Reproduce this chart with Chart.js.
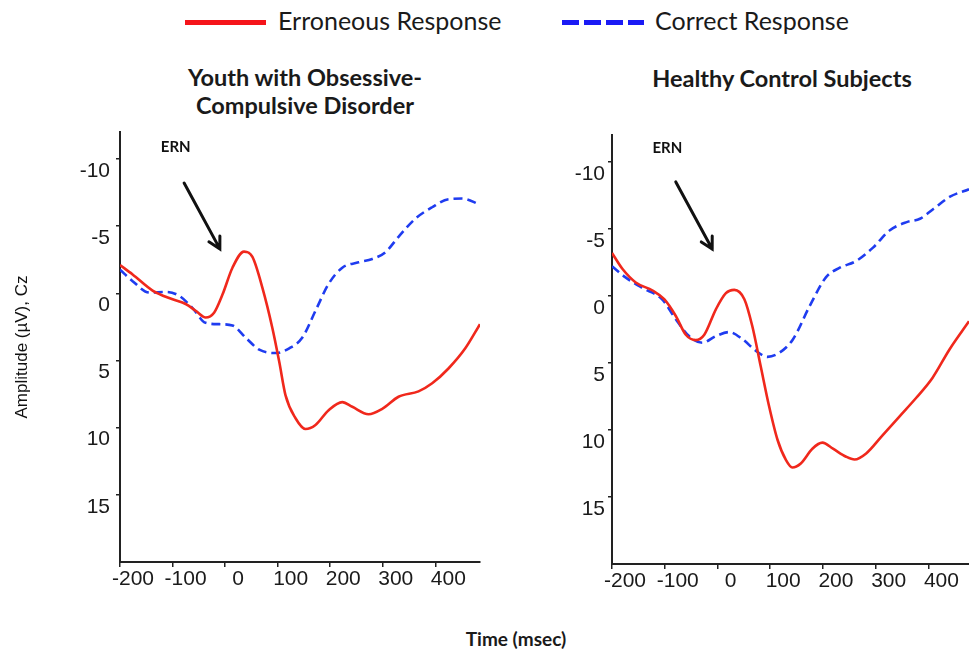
<!DOCTYPE html>
<html>
<head>
<meta charset="utf-8">
<script src="https://cdn.jsdelivr.net/npm/chart.js@4/dist/chart.umd.min.js"></script>
<style>
  body { margin: 0; width: 969px; height: 649px; background: #fff; position: relative; overflow: hidden; font-family: Lato, sans-serif; color: #1a1a1a; }
  .abs { position: absolute; white-space: nowrap; }
  .center { transform: translate(-50%, -50%); text-align: center; }
  .title { font-weight: bold; font-size: 23.5px; line-height: 28px; }
  .legtext { font-size: 25px; transform: translateY(-50%); }
  canvas { position: absolute; }
</style>
</head>
<body>

<div id="legend"></div>

<div class="abs center title" style="left:305px; top:91px;">Youth with Obsessive-<br>Compulsive Disorder</div>
<div class="abs center title" style="left:782px; top:78px;">Healthy Control Subjects</div>
<div class="abs center" style="left:516px; top:638px; font-weight:bold; font-size:19px;">Time (msec)</div>

<canvas id="chartOcd" width="490" height="500" style="left:0; top:110px;"></canvas>
<canvas id="chartHealthy" width="479" height="500" style="left:490px; top:110px;"></canvas>

<script>
/* Datos */
const seriesNames = ['Erroneous Response', 'Correct Response'];
const xTicks = [-200, -100, 0, 100, 200, 300, 400];
const yTicks = [-10, -5, 0, 5, 10, 15];

/* Youth with OCD */
const ocdErrTime = [-200, -176, -138, -100, -75, -56, -37, -21, -5, 14, 36, 52, 71, 90, 103, 115, 134, 153, 172, 197, 223, 242, 273, 299, 330, 368, 394, 425, 457, 485];
const ocdErrAmp = [-2.1, -1.4, -0.2, 0.45, 0.8, 1.3, 1.8, 1.45, 0.1, -1.9, -3.1, -2.7, -0.4, 2.6, 5.1, 7.6, 9.3, 10.1, 9.8, 8.7, 8.1, 8.45, 9.0, 8.6, 7.7, 7.3, 6.7, 5.6, 4.1, 2.3];
const ocdCorTime = [-200, -176, -144, -112, -87, -62, -37, -11, 14, 39, 65, 96, 122, 147, 172, 197, 223, 254, 280, 305, 330, 362, 394, 425, 451, 485];
const ocdCorAmp = [-1.75, -0.9, -0.05, -0.1, 0.2, 1.1, 2.2, 2.3, 2.4, 3.3, 4.2, 4.45, 4.1, 3.3, 1.3, -0.7, -1.9, -2.3, -2.55, -3.05, -4.2, -5.55, -6.4, -7.0, -7.05, -6.6];

/* Healthy control subjects */
const hcErrTime = [-200, -180, -155, -123, -101, -79, -60, -41, -25, -3, 16, 32, 51, 66, 82, 98, 114, 130, 142, 158, 180, 199, 219, 244, 260, 282, 313, 345, 377, 408, 440, 477];
const hcErrAmp = [-3.2, -2.0, -1.0, -0.4, 0.25, 1.5, 2.9, 3.3, 2.9, 1.0, -0.2, -0.45, 0.25, 2.25, 5.25, 8.25, 10.75, 12.25, 12.8, 12.5, 11.4, 10.95, 11.4, 12.0, 12.2, 11.75, 10.4, 9.0, 7.6, 6.1, 4.0, 1.9];
const hcCorTime = [-200, -175, -143, -105, -79, -54, -29, -3, 22, 48, 73, 95, 117, 143, 175, 206, 232, 263, 295, 327, 359, 384, 410, 441, 477];
const hcCorAmp = [-2.2, -1.4, -0.6, 0.25, 1.75, 3.0, 3.5, 3.0, 2.7, 3.25, 4.1, 4.55, 4.25, 3.25, 0.75, -1.4, -2.1, -2.6, -3.6, -4.9, -5.5, -5.75, -6.5, -7.4, -7.95];

/* ERN arrow (time, amplitude) */
const ocdArrow = [[-78, -8.2], [-10, -3.3]];
const ocdErnLabel = [-94, -10.9];
const hcArrow = [[-79, -8.5], [-10, -3.5]];
const hcErnLabel = [-95, -11.05];

const red = '#f0281c';
const blue = '#1f3cf0';

/* Leyenda */
const legend = document.getElementById('legend');
legend.innerHTML =
  '<div class="abs" style="left:185px; top:20px; width:81px; height:5px; background:#f5141a;"></div>' +
  '<div class="abs legtext" style="left:278px; top:20px;">' + seriesNames[0] + '</div>' +
  '<div class="abs" style="left:562px; top:20px; width:82px; height:5px; background:repeating-linear-gradient(to right, #1a1af5 0 17px, transparent 17px 22px);"></div>' +
  '<div class="abs legtext" style="left:655px; top:20px;">' + seriesNames[1] + '</div>';

const toPoints = (t, a) => t.map((v, i) => ({ x: v, y: a[i] }));

/* Flecha ERN */
const ernArrow = {
  id: 'ernArrow',
  afterDatasetsDraw(chart, args, opts) {
    const { ctx, scales: { x, y } } = chart;
    const x0 = x.getPixelForValue(opts.arrow[0][0]);
    const y0 = y.getPixelForValue(opts.arrow[0][1]);
    const x1 = x.getPixelForValue(opts.arrow[1][0]);
    const y1 = y.getPixelForValue(opts.arrow[1][1]);
    const ang = Math.atan2(y1 - y0, x1 - x0);
    ctx.save();
    ctx.strokeStyle = '#111';
    ctx.lineWidth = 3;
    ctx.lineCap = 'round';
    ctx.beginPath();
    ctx.moveTo(x0, y0);
    ctx.lineTo(x1, y1);
    ctx.moveTo(x1 - 13 * Math.cos(ang - 0.5), y1 - 13 * Math.sin(ang - 0.5));
    ctx.lineTo(x1, y1);
    ctx.lineTo(x1 - 13 * Math.cos(ang + 0.5), y1 - 13 * Math.sin(ang + 0.5));
    ctx.stroke();
    ctx.fillStyle = '#111';
    ctx.font = 'bold 15px Lato';
    ctx.textAlign = 'center';
    ctx.textBaseline = 'middle';
    ctx.fillText('ERN', x.getPixelForValue(opts.label[0]), y.getPixelForValue(opts.label[1]));
    ctx.restore();
  },
};

makePanel = (id, errT, errA, corT, corA, cfg) => {
  const ctx = document.getElementById(id).getContext('2d');
  return new Chart(ctx, {
    type: 'line',
    data: {
      datasets: [
        {
          label: seriesNames[0],
          data: toPoints(errT, errA),
          borderColor: red,
          borderWidth: 2.6,
          pointRadius: 0,
          cubicInterpolationMode: 'monotone',
        },
        {
          label: seriesNames[1],
          data: toPoints(corT, corA),
          borderColor: blue,
          borderWidth: 2.6,
          borderDash: [9, 5],
          pointRadius: 0,
          cubicInterpolationMode: 'monotone',
        },
      ],
    },
    options: {
      responsive: false,
      animation: false,
      layout: { padding: { top: cfg.padTop, right: cfg.padRight, left: 0, bottom: 0 } },
      scales: {
        x: {
          type: 'linear',
          min: -200,
          max: cfg.xMax,
          afterBuildTicks: (s) => { s.ticks = xTicks.map((v) => ({ value: v })); },
          afterFit: (s) => { s.height = cfg.xHeight; },
          ticks: {
            color: '#1a1a1a',
            font: { family: 'Liberation Sans', size: 21 },
            padding: 0,
            labelOffset: 13,
            maxRotation: 0,
          },
          grid: { drawOnChartArea: false, drawTicks: true, tickLength: 5, color: '#222', lineWidth: 1.5 },
          border: { color: '#222', width: 2 },
        },
        y: {
          reverse: true,
          min: -12,
          max: 20,
          afterBuildTicks: (s) => { s.ticks = yTicks.map((v) => ({ value: v })); },
          afterFit: (s) => { s.width = cfg.yWidth; },
          ticks: {
            color: '#1a1a1a',
            font: { family: 'Liberation Sans', size: 21 },
            padding: cfg.yPad,
            labelOffset: 12,
          },
          grid: { drawOnChartArea: false, drawTicks: true, tickLength: 4, color: '#222', lineWidth: 1.5 },
          border: { color: '#222', width: 2 },
          title: {
            display: cfg.yTitle,
            text: 'Amplitude (µV), Cz',
            color: '#111',
            font: { family: 'Liberation Sans', size: 17 },
            padding: { top: 12 },
          },
        },
      },
      plugins: {
        legend: { display: false },
        tooltip: { enabled: false },
        ernArrow: { arrow: cfg.arrow, label: cfg.label },
      },
    },
    plugins: [ernArrow],
  });
};

makePanel('chartOcd', ocdErrTime, ocdErrAmp, ocdCorTime, ocdCorAmp, {
  padTop: 22, padRight: 10, xMax: 485, xHeight: 48, yWidth: 120, yPad: 6, yTitle: true,
  arrow: ocdArrow, label: ocdErnLabel,
});

makePanel('chartHealthy', hcErrTime, hcErrAmp, hcCorTime, hcCorAmp, {
  padTop: 25, padRight: 0, xMax: 477, xHeight: 46, yWidth: 122, yPad: 3, yTitle: false,
  arrow: hcArrow, label: hcErnLabel,
});
</script>
</body>
</html>
